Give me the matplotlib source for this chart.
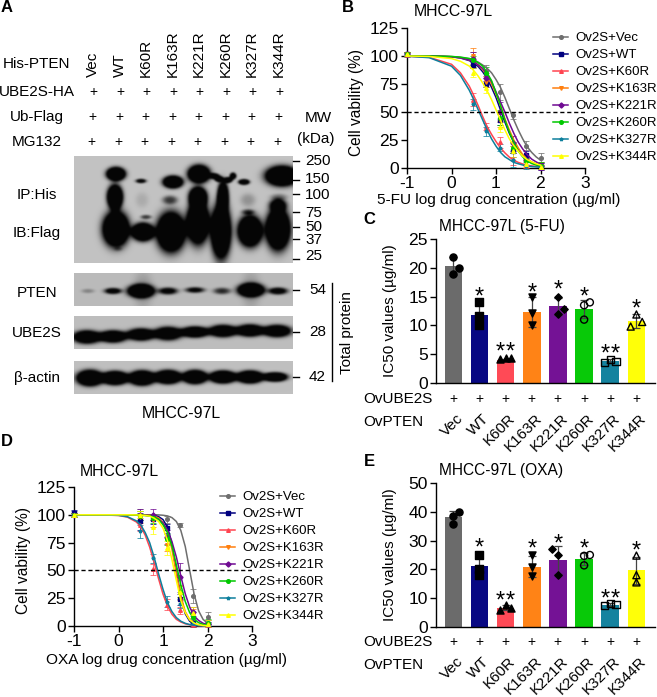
import numpy as np
import matplotlib
matplotlib.use('Agg')
import matplotlib.pyplot as plt

plt.rcParams['font.family'] = ['Liberation Sans', 'DejaVu Sans']
plt.rcParams['axes.unicode_minus'] = False

W, H = 657, 697

# --- dose response data
series_names = ['Ov2S+Vec', 'Ov2S+WT', 'Ov2S+K60R', 'Ov2S+K163R', 'Ov2S+K221R', 'Ov2S+K260R', 'Ov2S+K327R', 'Ov2S+K344R']
series_colors = ['#6e6e6e', '#00007f', '#ff4450', '#ff7f0e', '#6f0a92', '#00c800', '#0d7f9c', '#ffff00']
series_markers = ['o', 's', '^', 'v', 'D', 'o', '*', '^']

dose_x = [-1, 0.48, 0.78, 1.08, 1.38, 1.68, 2.0]
curve_x = [-1, -0.5, 0, 0.2, 0.4, 0.5, 0.6, 0.7, 0.8, 0.9, 1.0, 1.1, 1.2, 1.3, 1.4, 1.5, 1.6, 1.7, 1.8, 1.9, 2.0]

b_vals = [
    [102, 98, 87, 68, 47, 20, 9],
    [102, 92, 75, 43, 15, 12, 1.5],
    [101, 61, 37, 23, 8, 3, 0.5],
    [102, 100, 77, 43, 18, 5, 2],
    [102, 97, 80, 50, 22, 7, 1.5],
    [102, 96, 85, 45, 18, 6, 2],
    [101, 57, 33, 18, 7, 2, 0.8],
    [102, 85, 71, 37, 15, 4, 1],
]
b_errs = [
    [2, 6, 5, 7, 3, 4, 4],
    [2, 3, 3, 5, 5, 3, 3],
    [2, 6, 3, 5, 5, 3, 1],
    [2, 7, 5, 6, 5, 3, 3],
    [2, 7, 5, 9, 7, 4, 3],
    [2, 4, 5, 7, 5, 3, 3],
    [2, 5, 4, 3, 6, 3, 2],
    [2, 4, 4, 5, 5, 3, 2],
]
b_curves = [
    [100, 100, 99.5, 98.8, 97.5, 96.5, 94.5, 92, 89, 85, 79, 72, 63, 53, 43, 34, 26, 19, 14, 10, 7],
    [100, 100, 99.3, 98.2, 95.9, 93.8, 90.6, 86, 80, 72, 63, 52, 41, 31, 23, 16, 11, 7.3, 4.9, 3.2, 2],
    [99.8, 98.8, 92.6, 85, 73, 64.8, 55.6, 46, 37, 30, 23.6, 18, 13.5, 9.7, 7, 5, 3.6, 2.6, 1.9, 1.4, 1],
    [100, 100, 99.3, 98.5, 96.5, 95, 92, 88, 82, 75, 66, 56, 44, 34, 25, 18, 12, 8, 5.5, 3.5, 2.3],
    [100, 100, 99.3, 98.4, 96.5, 95, 92, 89, 83, 77, 68, 59, 50, 40, 31, 23, 17, 12, 8, 5.5, 3.3],
    [100, 100, 99.6, 99, 97.8, 96.5, 94, 91, 85, 78, 67, 56, 43, 32, 23, 15, 10, 6.5, 4, 2.7, 1.7],
    [99.8, 98.5, 90.9, 82.7, 69.4, 61, 52, 43, 34, 26, 19.5, 14, 10, 7.5, 5, 3.8, 2.7, 1.9, 1.3, 1, 0.7],
    [100, 99.6, 97.7, 95.3, 91, 87, 82, 76, 69, 61, 52, 43, 34, 26, 20, 15, 10.5, 7.5, 5.5, 3.8, 2.6],
]

d_vals = [
    [101, 100, 98, 96, 91, 27, 8],
    [102, 94, 96, 88, 24, 3, 2],
    [100, 91, 51, 19, 14, 2, 0.5],
    [100, 98, 95, 73, 30, 10, 2],
    [100, 100, 100, 80, 44, 13, 2],
    [100, 99, 97, 78, 31, 8, 3],
    [100, 85, 61, 22, 20, 3, 1],
    [100, 100, 89, 70, 31, 12, 2],
]
d_errs = [
    [2, 5, 3, 3, 2, 6, 5],
    [2, 8, 4, 4, 5, 4, 2],
    [2, 6, 5, 5, 3, 3, 1],
    [2, 5, 6, 6, 7, 5, 3],
    [2, 5, 5, 6, 13, 4, 3],
    [2, 4, 4, 5, 5, 5, 3],
    [2, 6, 4, 5, 4, 3, 1],
    [2, 3, 6, 6, 5, 5, 3],
]
d_curves = [
    [100, 100, 100, 100, 100, 100, 100, 100, 100, 99.9, 99.6, 99, 97.5, 94, 86, 71.5, 50, 28.5, 13.7, 6, 2.5],
    [100, 100, 100, 100, 100, 99.9, 99.8, 99.7, 99.4, 98.4, 95.7, 89, 74, 50, 26, 11, 4.3, 1.6, 0.6, 0.2, 0.1],
    [100, 100, 99.4, 97.9, 93.6, 89.3, 81.7, 71, 57.4, 42.6, 28.7, 18, 10.6, 6, 3.6, 2, 1.1, 0.6, 0.3, 0.2, 0.1],
    [100, 100, 100, 100, 99.9, 99.8, 99.7, 99.6, 98.9, 97.2, 93, 85, 69, 47, 27, 13, 5.8, 2.3, 1, 0.4, 0.2],
    [100, 100, 100, 100, 99.9, 99.8, 99.5, 99, 98, 96, 92.7, 86.5, 76, 62, 45, 29, 17, 9, 5, 2.5, 1.3],
    [100, 100, 100, 100, 99.8, 99.7, 99.4, 99, 98, 96, 91, 84, 72, 55, 37, 22, 12, 6, 3, 1.5, 0.7],
    [100, 100, 99.5, 98.3, 94.6, 91, 84, 75, 62, 47, 33, 21, 13, 7.5, 4.3, 2.4, 1.3, 0.7, 0.4, 0.2, 0.1],
    [100, 100, 100, 100, 99.9, 99.7, 99.4, 98.8, 97, 94, 88, 77, 60, 41, 23, 12, 5.5, 2.6, 1.1, 0.5, 0.2],
]

# --- IC50 bars
bar_labels = ['Vec', 'WT', 'K60R', 'K163R', 'K221R', 'K260R', 'K327R', 'K344R']
bar_colors = ['#666666', '#00007f', '#ff4450', '#ff7f0e', '#6f0a92', '#00c800', '#0d7f9c', '#ffff00']
bar_markers = ['o', 's', '^', 'v', 'D', 'o', 's', '^']
bar_marker_open = [False, False, False, False, False, True, True, True]
bar_stars = [0, 1, 2, 1, 1, 1, 2, 1]

c_means = [20.3, 11.8, 4.0, 12.3, 13.3, 12.8, 3.8, 10.8]
c_errs = [1.5, 2.0, 0.2, 2.6, 1.5, 1.6, 0.3, 1.2]
c_points = [[21.9, 19.0, 20.0], [14.0, 11.6, 10.0], [4.2, 4.4, 4.3], [15.0, 12.1, 10.0],
            [14.9, 12.9, 11.9], [13.5, 14.0, 11.0], [3.5, 4.1, 3.8], [11.9, 9.8, 10.6]]
c_offsets = [[0, 0, 0.22], [0, 0, 0], [-0.22, 0, 0.22], [0, 0, 0],
             [0, 0.22, 0], [0, 0.22, 0], [-0.22, 0, 0.22], [0, -0.22, 0.22]]
c_star_y = [0, 16.2, 6.6, 16.9, 17.3, 16.2, 6.2, 14.1]

e_means = [38.3, 21.2, 6.7, 21.0, 23.3, 23.6, 7.8, 19.7]
e_errs = [2.0, 4.0, 0.9, 3.8, 4.8, 2.0, 0.4, 4.7]
e_points = [[39.9, 38.7, 35.9], [25.0, 20.3, 18.0], [5.8, 7.6, 6.7], [25.0, 20.7, 17.8],
            [27.0, 25.0, 18.0], [24.7, 25.0, 21.4], [7.4, 8.1, 7.8], [24.8, 18.0, 15.5]]
e_offsets = [[0.22, 0, 0], [0, 0, 0], [-0.22, 0, 0.22], [0, 0, 0],
             [-0.22, 0, 0], [0, 0.22, 0], [-0.22, 0, 0.22], [0, 0, 0]]
e_star_y = [0, 29.9, 11.4, 29.6, 31.2, 29.5, 12.0, 28.8]

# --- western blot bands: x, y, half width, half height, strength
top_bands = [
    (116, 174, 8.5, 6, 2.5), (115, 197, 7, 11, 2.5), (116, 229, 12, 16, 2.5), (118, 249, 4, 2, 0.25),
    (141, 181, 5, 2, 1.2), (143, 232, 10, 8, 2.5), (146, 217, 5, 2, 0.7), (142, 200, 6, 7, 0.12),
    (173, 182, 9, 5.5, 2.4), (170, 200, 7, 4, 0.7), (171, 232, 13, 18, 2.5),
    (199, 174, 10, 8, 2.5), (198, 197, 8, 9, 2.4), (198, 222, 10, 20, 2.5),
    (214, 176, 5, 2.5, 1.6), (219, 179, 4, 2.5, 1.8), (228, 180, 4, 2.5, 1.8), (233, 176, 3, 3, 1.6),
    (223, 197, 5, 14, 2.2), (221, 231, 9, 25, 2.5),
    (244, 182, 5, 2.5, 1.8), (248, 200, 7, 6, 0.25), (248, 212, 6, 2.5, 0.6), (250, 231, 11, 14, 2.5),
    (282, 176, 15, 9, 2.5), (279, 197, 8, 3, 0.35), (278, 205, 8, 6, 1.2), (278, 229, 11, 19, 2.5),
]
pten_bands = [
    (88, 291, 6, 2, 0.3), (113, 291, 8, 2.8, 1.3), (141, 291, 12, 6, 2.5), (168, 291, 9, 3.2, 1.2),
    (195, 290, 9, 2.6, 1.1), (222, 291, 8, 3, 0.8), (251, 290, 12, 6, 2.5), (278, 291, 9, 3.2, 1.3),
    (143, 290, 9, 17, 0.2), (251, 290, 9, 17, 0.2),
]
ube2s_bands = [
    (87, 337, 13, 6, 1.9), (113, 336.5, 13, 5.5, 1.9), (141, 334.5, 13, 5.5, 1.9), (168, 333.5, 13, 6, 1.9),
    (195, 332, 13, 5, 1.9), (223, 331, 13, 5.5, 1.9), (250, 330.5, 13, 5.5, 1.9), (277, 331, 13, 5.5, 1.9),
]
actin_bands = [
    (90, 378, 12, 7, 2.5), (115, 378, 12, 6, 2.5), (142, 378, 12, 6.5, 2.5), (168, 377, 12, 6, 2.5),
    (195, 377, 11, 6, 2.5), (223, 377, 12, 5.5, 2.5), (250, 377, 12, 5.5, 2.5), (275, 377, 11, 4, 2.3),
]

lane_x = [93, 120, 146, 173, 199, 226, 252, 279]
mw_top = [('250', 161, 161), ('150', 180, 179), ('100', 194, 195), ('75', 212, 213), ('50', 227, 227), ('37', 239, 240), ('25', 259, 256)]
mw_low = [('54', 290), ('28', 332), ('42', 377)]


def px_axes(fig, left, right, top, bottom):
    return fig.add_axes([left / W, 1 - bottom / H, (right - left) / W, (bottom - top) / H])


def make_blot(ax, x0, x1, y0, y1, bg, bands):
    xs, ys = np.meshgrid(np.arange(x0, x1) + 0.5, np.arange(y0, y1) + 0.5)
    dark = np.zeros_like(xs)
    for bx, by, sx, sy, s in bands:
        r2 = ((xs - bx) / (0.85 * sx)) ** 2 + ((ys - by) / (0.85 * sy)) ** 2
        dark += s * np.exp(-0.5 * r2 ** 1.5)
    img = np.clip(bg * (1 - dark), 0.02, 1)
    # soften the edges a little, film bands are never crisp
    kernel = np.array([1, 2, 1]) / 4
    pad = np.pad(img, 1, mode='edge')
    pad = np.apply_along_axis(lambda v: np.convolve(v, kernel, mode='same'), 0, pad)
    pad = np.apply_along_axis(lambda v: np.convolve(v, kernel, mode='same'), 1, pad)
    img = pad[1:-1, 1:-1]
    ax.imshow(img, cmap='gray', vmin=0, vmax=1, extent=(x0, x1, y1, y0), aspect='auto', interpolation='bilinear')


def style_axes(ax, tick_size):
    for s in ['top', 'right']:
        ax.spines[s].set_visible(False)
    for s in ['left', 'bottom']:
        ax.spines[s].set_linewidth(1.0)
    ax.tick_params(width=1.0, length=4, labelsize=tick_size, pad=2)


def dose_panel(ax, vals, errs, curves, legend_top):
    for i, name in enumerate(series_names):
        ax.errorbar(dose_x, vals[i], yerr=errs[i], fmt='none', ecolor=series_colors[i], elinewidth=0.7,
                    capsize=2.2, capthick=0.7, alpha=0.75, clip_on=False, zorder=3)
        ax.plot(curve_x, curves[i], color=series_colors[i], lw=1.1, zorder=4, clip_on=False)
        ax.plot(dose_x, vals[i], ls='none', marker=series_markers[i], ms=2.6, color=series_colors[i],
                clip_on=False, zorder=4)
        ax.plot([], [], color=series_colors[i], lw=1.1, marker=series_markers[i], ms=2.6, label=name)
    ax.axhline(50, color='black', ls=(0, (3, 2)), lw=1.0, zorder=5)
    ax.set_xlim(-1, 3)
    ax.set_ylim(0, 125)
    ax.set_xticks([-1, 0, 1, 2, 3])
    ax.set_yticks([0, 25, 50, 75, 100, 125])
    style_axes(ax, 12.6)
    ax.legend(loc='upper left', bbox_to_anchor=legend_top, frameon=False, fontsize=9.5, handlelength=1.15,
              handletextpad=0.55, labelspacing=0.36, borderpad=0, borderaxespad=0)


def bar_panel(ax, means, errs, points, offsets, star_y, ymax, yticks):
    cats = np.arange(len(bar_labels))
    ax.bar(cats, means, width=0.67, color=bar_colors, zorder=2, alpha=0.97)
    ax.errorbar(cats, means, yerr=errs, fmt='none', ecolor='#444444', elinewidth=0.9, capsize=3, capthick=0.9, zorder=3)
    for i in cats:
        face = 'none' if bar_marker_open[i] else 'black'
        ax.scatter(i + np.array(offsets[i]), points[i], s=26 if bar_markers[i] != 'D' else 14, marker=bar_markers[i],
                   facecolors=face, edgecolors='black', linewidths=1.0, zorder=4, clip_on=False)
        # two stars are placed one by one, the glyph spacing is too tight
        for k in range(bar_stars[i]):
            dx = 0 if bar_stars[i] == 1 else (-3.6 if k == 0 else 3.6)
            ax.annotate('*', (i, star_y[i]), xytext=(dx, -9.7), textcoords='offset points',
                        ha='center', va='baseline', fontsize=17)
    ax.set_xlim(-0.66, 7.71)
    ax.set_ylim(0, ymax)
    ax.set_xticks([])
    ax.set_yticks(yticks)
    style_axes(ax, 12.6)


fig = plt.figure(figsize=(W / 100, H / 100), dpi=100)

# overlay in pixel coordinates holds the blots and the free text
ov = fig.add_axes([0, 0, 1, 1])
ov.axis('off')
make_blot(ov, 74, 293, 156, 263, 0.76, top_bands)
make_blot(ov, 74, 293, 273, 306, 0.73, pten_bands)
make_blot(ov, 74, 293, 316, 349, 0.74, ube2s_bands)
make_blot(ov, 74, 293, 361, 394, 0.75, actin_bands)
ov.set_xlim(0, W)
ov.set_ylim(H, 0)


def txt(x, y, s, size=11, ha='center', va='center', **kw):
    ov.text(x, y, s, fontsize=size, ha=ha, va=va, **kw)


for x, y, s in [(7, 8, 'A'), (348, 8, 'B'), (369, 219, 'C'), (7, 441, 'D'), (369, 461, 'E')]:
    txt(x, y, s, size=12, fontweight='bold')

for y, s in [(64, 'His-PTEN'), (92, 'UBE2S-HA'), (117, 'Ub-Flag'), (142, 'MG132'), (195, 'IP:His'),
             (233, 'IB:Flag'), (293, 'PTEN'), (333, 'UBE2S'), (378, 'β-actin')]:
    txt(37, y, s)
for x, s in zip(lane_x, bar_labels):
    ov.text(x, 77, s, fontsize=11, rotation=90, ha='center', va='bottom')
for y, shift in [(92, 0), (117, -1), (142, -2)]:
    for x in lane_x:
        txt(x + shift, y, '+', size=10)
txt(318, 118, 'MW')
txt(316, 139, '(kDa)')
txt(181, 414, 'MHCC-97L', size=11.4)
txt(347, 333, 'Total protein', rotation=90)
for s, tick_y, label_y in mw_top:
    ov.plot([293, 299], [tick_y, tick_y], color='black', lw=1.0)
    txt(305, label_y, s, ha='left')
for s, y in mw_low:
    ov.plot([293, 299], [y, y], color='black', lw=1.0)
    txt(309, y, s, ha='left')
ov.plot([332, 332], [283, 381], color='black', lw=1.0)

# panel B
ax_b = px_axes(fig, 407, 585, 28, 168)
dose_panel(ax_b, b_vals, b_errs, b_curves, (0.82, 0.97))
txt(453, 12, 'MHCC-97L', size=11.4)
txt(356, 102, 'Cell vability (%)', size=11.2, rotation=90)
txt(499, 200, '5-FU log drug concentration (µg/ml)', size=11.1)

# panel D
ax_d = px_axes(fig, 74, 252, 487, 626)
dose_panel(ax_d, d_vals, d_errs, d_curves, (0.82, 0.97))
txt(119, 472, 'MHCC-97L', size=11.4)
txt(24, 561, 'Cell vability (%)', size=11.2, rotation=90)
txt(167, 660, 'OXA log drug concentration (µg/ml)', size=11.1)

# panel C
ax_c = px_axes(fig, 436, 655, 239, 383)
bar_panel(ax_c, c_means, c_errs, c_points, c_offsets, c_star_y, 25, [0, 5, 10, 15, 20, 25])
txt(502, 227, 'MHCC-97L (5-FU)', size=11.2)
txt(390, 311, 'IC50 values (µg/ml)', size=11, rotation=90)

# panel E
ax_e = px_axes(fig, 436, 655, 483, 627)
bar_panel(ax_e, e_means, e_errs, e_points, e_offsets, e_star_y, 50, [0, 10, 20, 30, 40, 50])
txt(501, 471, 'MHCC-97L (OXA)', size=11.2)
txt(390, 555, 'IC50 values (µg/ml)', size=11, rotation=90)

for row_y, ptext_y in [(399, 422), (642, 665)]:
    txt(363, row_y, 'OvUBE2S', ha='left')
    txt(363, ptext_y, 'OvPTEN', ha='left')
    for i, s in enumerate(bar_labels):
        cx = 453 + 26.2 * i
        txt(cx, row_y, '+', size=10)
        ov.text(cx + 3, ptext_y - 11, s, fontsize=11, rotation=45, rotation_mode='anchor', ha='right', va='top')

fig.savefig('out.png', dpi=100)
